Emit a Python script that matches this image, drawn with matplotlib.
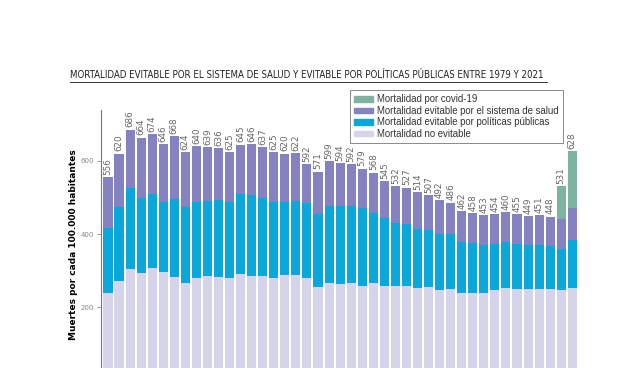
import matplotlib.pyplot as plt
import numpy as np
from matplotlib.patches import Patch

years = list(range(1979, 2022))
totals = [556, 620, 686, 664, 674, 646, 668, 624, 640, 639, 636, 625, 645, 646, 637,
          625, 620, 622, 592, 571, 599, 594, 592, 579, 568, 545, 532, 527, 514, 507,
          492, 486, 462, 458, 453, 454, 460, 455, 449, 451, 448, 531, 628]
no_evitable = [240, 271, 305, 294, 308, 296, 282, 267, 281, 284, 282, 281, 290, 285, 286,
               280, 287, 289, 281, 255, 266, 263, 265, 257, 265, 257, 259, 257, 253, 255,
               246, 249, 240, 238, 238, 247, 253, 249, 250, 249, 249, 246, 253]
# cumulative top of public-policy segment
cum_politicas = [417, 475, 525, 498, 509, 488, 497, 473, 487, 490, 492, 488, 509, 507, 498,
                 488, 488, 491, 484, 456, 478, 476, 477, 472, 457, 443, 431, 428, 415, 411,
                 401, 400, 379, 376, 369, 374, 379, 372, 371, 369, 368, 358, 383]
# cumulative top of health-system segment (below covid)
cum_salud = totals[:41] + [440, 470]

politicas = [c - n for c, n in zip(cum_politicas, no_evitable)]
salud = [s - c for s, c in zip(cum_salud, cum_politicas)]
covid = [t - s for t, s in zip(totals, cum_salud)]

c_covid = '#7db3a0'
c_salud = '#8482c0'
c_pol = '#0aa7da'
c_no = '#d6d4ea'

fig = plt.figure(figsize=(6.4, 3.68), dpi=100)
ax = fig.add_axes([0.158, -0.0334, 0.75, 0.735])

x = np.arange(len(years))
w = 0.82
ax.bar(x, no_evitable, w, color=c_no)
ax.bar(x, politicas, w, bottom=no_evitable, color=c_pol)
ax.bar(x, salud, w, bottom=cum_politicas, color=c_salud)
ax.bar(x, covid, w, bottom=cum_salud, color=c_covid)

for xi, t in zip(x, totals):
    ax.text(xi, t + 6, str(t), rotation=90, ha='center', va='bottom',
            fontsize=6.3, color='#666666', zorder=5)

ax.set_xlim(-0.62, 42.8)
ax.set_ylim(0, 740)
ax.set_yticks([200, 400, 600])
ax.set_yticklabels(['200', '400', '600'], fontsize=5, color='#888888')
ax.tick_params(axis='y', length=3, color='#888888', width=0.6, pad=2)
ax.set_xticks([])
for s in ['top', 'right', 'bottom']:
    ax.spines[s].set_visible(False)
ax.spines['left'].set_color('#777777')
ax.spines['left'].set_linewidth(0.8)
ax.set_ylabel('Muertes por cada 100.000 habitantes', fontsize=6.5, fontweight='bold',
              labelpad=2)

handles = [Patch(color=c_covid), Patch(color=c_salud), Patch(color=c_pol), Patch(color=c_no)]
labels = ['Mortalidad por covid-19', 'Mortalidad evitable por el sistema de salud',
          'Mortalidad evitable por políticas públicas', 'Mortalidad no evitable']
leg = fig.legend(handles, labels, loc='upper left', bbox_to_anchor=(0.547, 0.755),
                 prop={'family': 'Liberation Sans', 'size': 6.9},
                 frameon=True, fancybox=False, edgecolor='#555555',
                 handlelength=1.9, handleheight=0.55, labelspacing=0.15, borderpad=0.45,
                 handletextpad=0.45, labelcolor='#333333', borderaxespad=0)
leg.get_frame().set_linewidth(0.6)
leg.set_zorder(1)

fig.text(0.109, 0.797,
         'MORTALIDAD EVITABLE POR EL SISTEMA DE SALUD Y EVITABLE POR POLÍTICAS PÚBLICAS ENTRE 1979 Y 2021',
         fontsize=6.95, family=['Liberation Sans Narrow', 'DejaVu Sans'],
         fontstretch='condensed',
         color='#222222', ha='left', va='center')
fig.lines.append(plt.Line2D([0.109, 0.855], [0.778, 0.778], transform=fig.transFigure,
                            color='#333333', linewidth=0.7))

fig.savefig('out.png', dpi=100)
